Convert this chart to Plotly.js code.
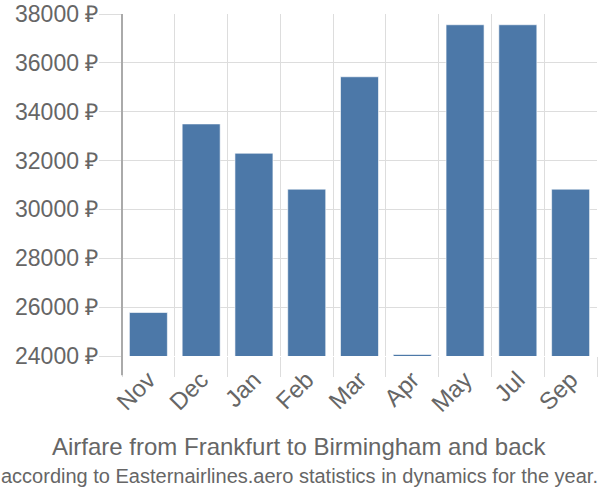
<!DOCTYPE html>
<html>
<head>
<meta charset="utf-8">
<script src="https://cdn.plot.ly/plotly-3.0.1.min.js"></script>
<style>html,body{margin:0;padding:0;background:#fff;}#chart{width:600px;height:500px;}</style>
</head>
<body>
<div id="chart"></div>
<script>
const months = ["Nov", "Dec", "Jan", "Feb", "Mar", "Apr", "May", "Jul", "Sep"];
const prices = [25780, 33500, 32300, 30830, 35430, 24060, 37560, 37560, 30830];
const yTicks = [24000, 26000, 28000, 30000, 32000, 34000, 36000, 38000];
const yTickLabels = yTicks.map(v => v + " ₽");
const titleLine1 = "Airfare from Frankfurt to Birmingham and back";
const titleLine2 = "according to Easternairlines.aero statistics in dynamics for the year.";

const trace = {
  type: "bar",
  x: months,
  y: prices,
  base: 0,
  marker: {color: "#4c78a8", line: {color: "rgba(255,255,255,0.6)", width: 1}},
  hoverinfo: "none"
};

const layout = {
  width: 600, height: 500,
  margin: {l: 122, r: 3, t: 14, b: 144},
  paper_bgcolor: "#fff", plot_bgcolor: "#fff",
  bargap: 0.28,
  showlegend: false,
  font: {family: "Liberation Sans, Arial, sans-serif", color: "#666"},
  xaxis: {
    type: "category",
    tickson: "boundaries",
    showgrid: true, gridcolor: "#dddddd", gridwidth: 1,
    ticks: "outside", ticklen: 20, tickcolor: "#dddddd", tickwidth: 1,
    tickangle: -45,
    tickfont: {size: 24, color: "#666"},
    ticklabelstandoff: 4,
    zeroline: false, showline: false,
    range: [-0.5, 8.5]
  },
  yaxis: {
    range: [24000, 38000],
    tickvals: yTicks, ticktext: yTickLabels,
    showgrid: true, gridcolor: "#dddddd", gridwidth: 1,
    ticks: "outside", ticklen: 22, tickcolor: "#dddddd", tickwidth: 1,
    tickfont: {size: 23, color: "#666"},
    ticklabelstandoff: -4,
    zeroline: false, showline: false
  },
  shapes: [{
    type: "line", xref: "paper", yref: "paper",
    x0: 0, x1: 0, y0: -0.056, y1: 1,
    line: {color: "#aaaaaa", width: 2}
  }],
  annotations: [
    {text: titleLine1, xref: "paper", yref: "paper", x: 0.5, xanchor: "center",
     y: -0.266, yanchor: "middle", showarrow: false,
     xshift: -60, font: {size: 24, color: "#666"}},
    {text: titleLine2, xref: "paper", yref: "paper", x: 0.5, xanchor: "center",
     y: -0.352, yanchor: "middle", showarrow: false,
     xshift: -60, font: {size: 20, color: "#666", family: "Liberation Sans Narrow, Arial Narrow, sans-serif"}}
  ]
};

Plotly.newPlot("chart", [trace], layout, {displayModeBar: false, staticPlot: true});
</script>
</body>
</html>
